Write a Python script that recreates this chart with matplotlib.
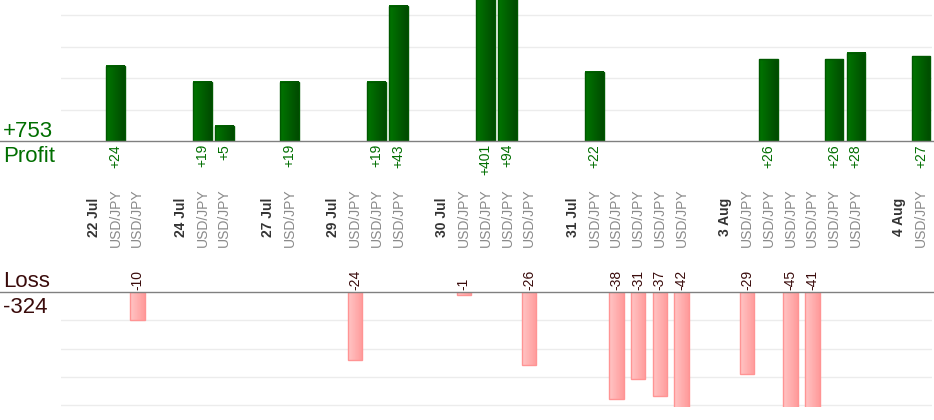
import numpy as np
import matplotlib
matplotlib.use('Agg')
import matplotlib.pyplot as plt
from matplotlib.colors import LinearSegmentedColormap
from matplotlib.lines import Line2D
from matplotlib.transforms import blended_transform_factory

plt.rcParams['font.family'] = ['Liberation Sans', 'DejaVu Sans']

# one slot per column: empty gap, date header or trade
labels = ['', '22 Jul', 'USD/JPY', 'USD/JPY',
          '', '24 Jul', 'USD/JPY', 'USD/JPY',
          '', '27 Jul', 'USD/JPY',
          '', '29 Jul', 'USD/JPY', 'USD/JPY', 'USD/JPY',
          '', '30 Jul', 'USD/JPY', 'USD/JPY', 'USD/JPY', 'USD/JPY',
          '', '31 Jul', 'USD/JPY', 'USD/JPY', 'USD/JPY', 'USD/JPY', 'USD/JPY',
          '', '3 Aug', 'USD/JPY', 'USD/JPY', 'USD/JPY', 'USD/JPY', 'USD/JPY', 'USD/JPY',
          '', '4 Aug', 'USD/JPY']
pnl = [None, None, 24, -10,
       None, None, 19, 5,
       None, None, 19,
       None, None, -24, 19, 43,
       None, None, -1, 401, 94, -26,
       None, None, 22, -38, -31, -37, -42,
       None, None, -29, 26, -45, -41, 26, 28,
       None, None, 27]

total_profit = sum(v for v in pnl if v is not None and v > 0)
total_loss = sum(v for v in pnl if v is not None and v < 0)

green_text = '#006e00'
loss_text = '#3a0b0b'
grid_c = '#ececec'

green_cm = LinearSegmentedColormap.from_list('g', ['#007600', '#004a00'])
pink_cm = LinearSegmentedColormap.from_list('p', ['#ffc6c6', '#ff9a9a'])
grad = np.linspace(0, 1, 64).reshape(1, -1)

W, H = 934, 420
fig = plt.figure(figsize=(W / 100, H / 100), dpi=100)

x_left, x_right = 61 / W, 932 / W
ax_p = fig.add_axes([x_left, (H - 141.3) / H, x_right - x_left, 141.3 / H])
ax_l = fig.add_axes([x_left, (H - 407) / H, x_right - x_left, (407 - 292.3) / H])
lim_p = (0, 44.9)
lim_l = (-40.8, 0)

for ax in (ax_p, ax_l):
    for s in ax.spines.values():
        s.set_visible(False)
    ax.tick_params(left=False, bottom=False, labelleft=False, labelbottom=False)
    ax.set_axisbelow(True)
    ax.yaxis.grid(True, color=grid_c, lw=1)

def gradient_bar(ax, x, h, width, cmap, edge, lim):
    patch = ax.bar(x, h, width=width, facecolor='none', edgecolor=edge, lw=1, zorder=3)[0]
    y0 = max(min(0, h), lim[0])
    y1 = min(max(0, h), lim[1])
    ax.imshow(grad, cmap=cmap, aspect='auto', zorder=2,
              extent=(x - width / 2, x + width / 2, y0, y1))

tr_p = blended_transform_factory(ax_p.transData, fig.transFigure)
tr_l = blended_transform_factory(ax_l.transData, fig.transFigure)

for i, (lab, v) in enumerate(zip(labels, pnl)):
    if v is None:
        if lab:
            fig.text(i, (H - 217) / H, lab, transform=tr_p,
                     rotation=90, ha='center', va='center', fontsize=10,
                     fontweight='bold', color='#333333')
        continue
    fig.text(i, (H - 218) / H, lab, transform=tr_p,
             rotation=90, ha='center', va='center', fontsize=10, color='#8a8a8a')
    if v > 0:
        gradient_bar(ax_p, i, v, 0.85, green_cm, '#005800', lim_p)
        fig.text(i, (H - 144) / H, '+%d' % v, transform=tr_p,
                 rotation=90, ha='center', va='top', fontsize=10, color=green_text)
    else:
        gradient_bar(ax_l, i, v, 0.67, pink_cm, '#ff9494', lim_l)
        fig.text(i, (H - 290) / H, '%d' % v, transform=tr_l,
                 rotation=90, ha='center', va='bottom', fontsize=10, color=loss_text)

ax_p.set_xlim(-0.5, len(labels) - 0.5)
ax_l.set_xlim(-0.5, len(labels) - 0.5)
ax_p.set_ylim(*lim_p)
ax_l.set_ylim(*lim_l)
ax_p.set_yticks([10, 20, 30, 40])
ax_l.set_yticks([-10, -20, -30, -40])

# baselines run across the whole figure
for yy in (141.3, 292.3):
    fig.add_artist(Line2D([0, 1], [(H - yy) / H] * 2, transform=fig.transFigure,
                          color='#808080', lw=1))

fig.text(3 / W, (H - 137) / H, '+%d' % total_profit, fontsize=16, color=green_text, va='baseline')
fig.text(3 / W, (H - 162) / H, 'Profit', fontsize=16, color=green_text, va='baseline')
fig.text(3 / W, (H - 287) / H, 'Loss', fontsize=16, color=loss_text, va='baseline')
fig.text(3 / W, (H - 313) / H, '%d' % total_loss, fontsize=16, color=loss_text, va='baseline')

fig.savefig('out.png', dpi=100)
